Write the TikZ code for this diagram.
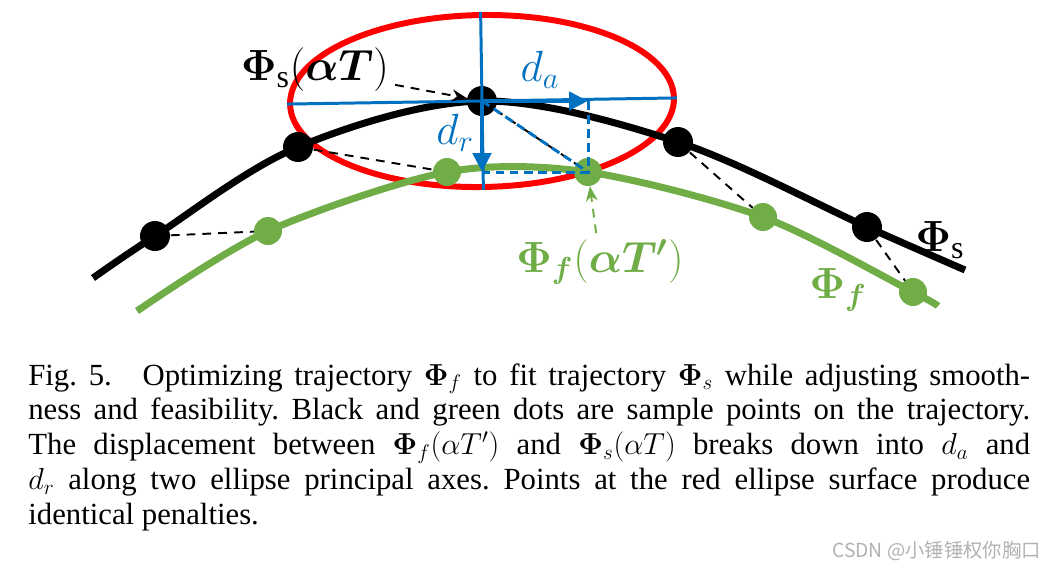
\documentclass[tikz,border=0pt]{standalone}
\usepackage{amsmath,bm}
\usepackage{fontspec}
\setmainfont{Liberation Serif}
\newfontfamily\cjkfont{Noto Sans CJK SC}
\usetikzlibrary{arrows.meta, shapes.geometric}

\definecolor{trajblue}{RGB}{0,112,192}
\definecolor{trajgreen}{RGB}{112,173,71}

\begin{document}
\begin{tikzpicture}[
    x=0.02cm, y=-0.02cm,
    every node/.style={align=center},
    sdot/.style={circle, fill=black, minimum size=0.6cm, inner sep=0pt},
    fdot/.style={circle, fill=trajgreen, minimum size=0.56cm, inner sep=0pt},
    strj/.style={line width=4pt, black},
    ftrj/.style={line width=4pt, trajgreen},
    pen/.style={draw=red, line width=3.4pt, ellipse, inner sep=0pt,
        minimum width=7.68cm, minimum height=3.44cm, rotate=0.9},
    link/.style={line width=1.1pt, dash pattern=on 5pt off 4pt},
    axis/.style={trajblue, line width=1.7pt},
    comp/.style={trajblue, line width=2.8pt, -{Triangle[length=0.38cm, width=0.36cm]}},
    proj/.style={trajblue, line width=1.7pt, dash pattern=on 5pt off 3pt},
    ptr/.style={line width=1.1pt, dash pattern=on 5pt off 4pt, -{Stealth[length=0.3cm, width=0.24cm]}},
    lbl/.style={font=\fontsize{26}{30}\selectfont},
    >=Latex
]
\useasboundingbox (0,0) rectangle (1061,569);

% sample points
\coordinate (s0) at (93,278);
\coordinate (s1) at (155,236);
\coordinate (s2) at (298,147);
\coordinate (s3) at (482,101);
\coordinate (s4) at (678,142);
\coordinate (s5) at (867,227);
\coordinate (s6) at (965,270);
\coordinate (f0) at (137,311);
\coordinate (f1) at (268,231);
\coordinate (f2) at (447,172);
\coordinate (f3) at (588,172);
\coordinate (f4) at (763,217);
\coordinate (f5) at (913,292);
\coordinate (f6) at (938,306);

% penalty ellipse
\node[pen] (ell) at (s3) {};

% trajectories
\draw[strj] plot[smooth, tension=0.55] coordinates {(s0) (s1) (s2) (s3) (s4) (s5) (s6)};
\draw[ftrj] plot[smooth, tension=0.5] coordinates {(f0) (f1) (f2) (f3) (f4) (f5) (f6)};

\foreach \i in {1,...,5}
  \draw[link] (s\i) -- (f\i);

\foreach \i in {1,...,5} {
  \node[sdot] (S\i) at (s\i) {};
  \node[fdot] (F\i) at (f\i) {};
}

% principal axes and displacement
\draw[axis] (ell.west) -- (ell.east);
\draw[axis] (ell.north) -- (ell.south);
\coordinate (pa) at (s3 -| f3);
\coordinate (pr) at (s3 |- f3);
\draw[proj] (S3.center) -- (F3.center);
\draw[proj] (pa) -- (F3.center) -- (pr);
\draw[comp] (S3.center) -- (pa);
\draw[comp] (S3.center) -- (pr);

% labels
\node[lbl, trajblue] (da) at (540,70) {$d_a$};
\node[lbl, trajblue] (dr) at (455,133) {$d_r$};
\node[lbl] (lbls) at (315,70) {$\boldsymbol{\Phi}_{\mathrm{s}}(\boldsymbol{\alpha T})$};
\node[lbl, trajgreen] (lblf) at (600,262) {$\boldsymbol{\Phi}_{\boldsymbol{f}}(\boldsymbol{\alpha T'})$};
\node[lbl] (names) at (940,240) {$\boldsymbol{\Phi}_{\mathrm{s}}$};
\node[lbl, trajgreen] (namef) at (838,290) {$\boldsymbol{\Phi}_{\boldsymbol{f}}$};
\draw[ptr] (lbls) -- (S3);
\draw[ptr, trajgreen] (lblf) -- (F3);

% caption
\node[anchor=north west, text width=20.04cm, align=justify, inner sep=0pt,
      font=\fontsize{17.5}{19.9}\selectfont\frenchspacing] (cap) at (28,363)
  {Fig. 5.\quad Optimizing trajectory $\boldsymbol{\Phi}_f$ to fit trajectory $\boldsymbol{\Phi}_s$ while adjusting smooth-\linebreak
   ness and feasibility. Black and green dots are sample points on the trajectory.\linebreak
   The displacement between $\boldsymbol{\Phi}_f(\alpha T')$ and $\boldsymbol{\Phi}_s(\alpha T)$ breaks down into $d_a$ and\linebreak
   $d_r$ along two ellipse principal axes. Points at the red ellipse surface produce\linebreak
   identical penalties.};

\node[anchor=east, text=gray!60, font=\cjkfont\fontsize{11}{13}\selectfont] (mark) at (1047,551) {CSDN @小锤锤权你胸口};
\end{tikzpicture}
\end{document}
